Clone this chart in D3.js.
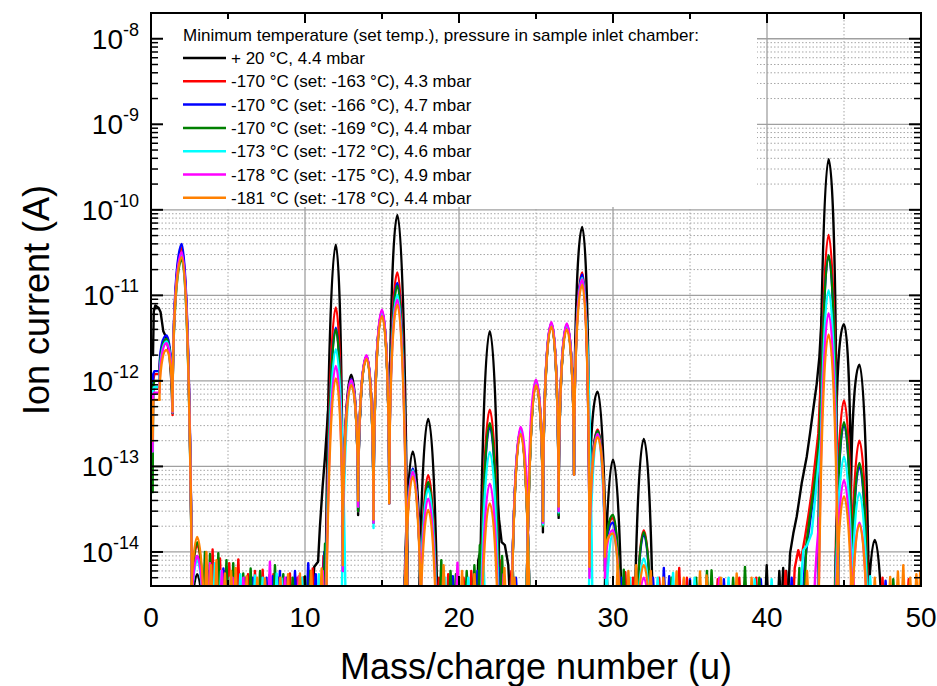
<!DOCTYPE html>
<html>
<head>
<meta charset="utf-8">
<script src="https://cdn.jsdelivr.net/npm/d3@7"></script>
<style>
  body { margin: 0; background: #fff; }
  svg { display: block; font-family: "Liberation Sans", Arial, sans-serif; }
</style>
</head>
<body>
<svg id="chart" width="937" height="686"></svg>
<script>
// ---------------- data ----------------
// mass/charge positions of the spectral peaks (u)
const masses = [1, 2, 3, 12, 13, 14, 15, 16, 17, 18, 22, 24, 25, 26, 27, 28, 29, 30, 32, 44, 45, 46, 47];
// positions of the minima between neighbouring peaks (u)
const valleyAt = [0.55, 1.4, 12.45, 13.45, 14.45, 15.47, 24.47, 25.45, 26.47, 27.47, 28.47, 29.48, 44.5, 45.45];

const seriesNames = [
  "+ 20 \u00b0C, 4.4 mbar",
  "-170 \u00b0C (set: -163 \u00b0C), 4.3 mbar",
  "-170 \u00b0C (set: -166 \u00b0C), 4.7 mbar",
  "-170 \u00b0C (set: -169 \u00b0C), 4.4 mbar",
  "-173 \u00b0C (set: -172 \u00b0C), 4.6 mbar",
  "-178 \u00b0C (set: -175 \u00b0C), 4.9 mbar",
  "-181 \u00b0C (set: -178 \u00b0C), 4.4 mbar"
];
const seriesColors = ["#000000", "#ff0000", "#0000ff", "#008000", "#00ffff", "#ff00ff", "#ff8000"];

// peak ion currents (A), one entry per mass above
const peaksBlack   = [null, 3.2e-11, 5.5e-15, 3.9e-11, 1.18e-12, 1.9e-12, 6.2e-12, 8.7e-11, 1.5e-13, 3.6e-13, 3.8e-12, 2.6e-13, 9.5e-13, 4.6e-12, 4.4e-12, 6.3e-11, 7.5e-13, 1.2e-13, 2.1e-13, 3.9e-10, 4.6e-12, 1.55e-12, 1.38e-14];
const peaksRed     = [3.1e-12, 3.6e-11, 1.2e-14, 7.2e-12, 1.05e-12, 1.95e-12, 6.5e-12, 1.85e-11, 9.3e-14, 7.9e-14, 4.6e-13, 2.7e-13, 9.8e-13, 4.7e-12, 4.5e-12, 1.85e-11, 2.7e-13, 2.5e-14, 1.8e-14, 5.1e-11, 5.9e-13, 2.0e-13, null];
const peaksBlue    = [3.4e-12, 4.0e-11, 9e-15, 4.2e-12, 1.05e-12, 1.95e-12, 6.5e-12, 1.4e-11, 9.5e-14, 6.0e-14, 2.9e-13, 2.7e-13, 9.8e-13, 4.7e-12, 4.5e-12, 1.75e-11, 2.6e-13, 2.2e-14, 1.6e-14, 2.9e-11, 3.1e-13, 1.0e-13, null];
const peaksGreen   = [3.1e-12, 2.6e-11, 1.3e-14, 4.0e-12, 1.0e-12, 1.9e-12, 6.3e-12, 1.3e-11, 9.0e-14, 6.6e-14, 3.2e-13, 2.6e-13, 9.5e-13, 4.6e-12, 4.4e-12, 1.6e-11, 2.6e-13, 2.7e-14, 1.7e-14, 2.95e-11, 3.3e-13, 1.1e-13, null];
const peaksCyan    = [2.9e-12, 3.0e-11, 8e-15, 2.35e-12, 1.0e-12, 1.9e-12, 6.4e-12, 1.02e-11, 9.0e-14, 5.5e-14, 1.48e-13, 2.7e-13, 9.8e-13, 4.7e-12, 4.5e-12, 1.6e-11, 2.4e-13, 1.7e-14, 8.4e-15, 1.15e-11, 1.3e-13, 4.9e-14, null];
const peaksMagenta = [2.75e-12, 3.2e-11, 9e-15, 1.5e-12, 1.02e-12, 2.0e-12, 6.8e-12, 8.9e-12, 8.7e-14, 4.2e-14, 6.3e-14, 2.9e-13, 1.03e-12, 4.9e-12, 4.7e-12, 1.55e-11, 2.4e-13, 1.8e-14, 5e-15, 6.2e-12, 6.9e-14, 2.2e-14, null];
const peaksOrange  = [2.3e-12, 2.8e-11, 1.5e-14, 1.07e-12, 8.9e-13, 1.8e-12, 5.7e-12, 7.8e-12, 7.6e-14, 3.1e-14, 3.7e-14, 2.4e-13, 8.9e-13, 4.3e-12, 4.0e-12, 1.32e-11, 2.2e-13, 1.65e-14, 7e-15, 3.5e-12, 4.5e-14, 2.1e-14, null];

// minima between neighbouring peaks (A), one entry per valley position; null = below the axis
const valleysBlack   = [null, 4.3e-13, 6e-15, 2.7e-14, 2.2e-14, 4.0e-14, null, 1.7e-14, 2.5e-14, 9e-14, 2.4e-14, null, 1.8e-13, 2.6e-14];
const valleysRed     = [1.2e-12, 4.0e-13, 6e-15, 3.0e-14, 2.2e-14, 3.7e-14, null, 2.1e-14, 2.8e-14, 8e-14, 6e-15, 6e-15, null, null];
const valleysBlue    = [1.3e-12, 4.3e-13, 6e-15, 3.0e-14, 2.2e-14, 3.7e-14, null, 2.1e-14, 2.8e-14, 8e-14, 6e-15, 6e-15, null, null];
const valleysGreen   = [1.0e-12, 4.2e-13, 6e-15, 3.0e-14, 2.2e-14, 3.7e-14, null, 2.0e-14, 2.7e-14, 8e-14, 6e-15, 6e-15, null, null];
const valleysCyan    = [8.5e-13, 4.3e-13, null, 3.4e-14, 1.9e-14, 3.7e-14, null, 2.1e-14, 2.9e-14, 8e-14, null, null, null, null];
const valleysMagenta = [7.3e-13, 4.3e-13, 6e-15, 3.4e-14, 2.2e-14, 3.7e-14, 7e-15, 2.2e-14, 3.0e-14, 8e-14, 5e-15, 5e-15, null, null];
const valleysOrange  = [6.0e-13, 4.4e-13, 7e-15, 4.0e-14, 2.4e-14, 3.7e-14, null, 2.3e-14, 3.4e-14, 8e-14, 6.7e-15, 8.8e-15, null, null];

// traced stretches of the curves that are not simple peaks: [m/z, current]
const tracesBlack = [
  [[0.13, 2.0e-12], [0.18, 6.5e-12], [0.28, 7.6e-12], [0.5, 7.1e-12], [0.62, 6.4e-12], [0.8, 3.8e-12], [1.0, 3.2e-12], [1.2, 2.0e-12], [1.32, 1.0e-12], [1.4, 4.3e-13]],
  [[10.45, 2.5e-15], [10.6, 6.7e-15], [10.85, 7.7e-15], [10.97, 2.0e-14], [11.15, 6.0e-14], [11.3, 1.3e-13], [11.5, 4.5e-13]],
  [[21.15, 2.5e-15], [21.25, 8e-15], [21.38, 1.0e-14], [21.45, 1.4e-14]],
  [[22.5, 4.0e-14], [22.6, 2.4e-14], [22.77, 1.3e-14], [22.98, 1.2e-14], [23.1, 9e-15], [23.2, 7e-15], [23.32, 2.5e-15]],
  [[41.35, 2.5e-15], [41.5, 9.7e-15], [41.71, 1.65e-14], [41.93, 2.6e-14], [42.25, 6.3e-14], [42.58, 1.3e-13], [42.79, 2.4e-13], [43.0, 4.6e-13], [43.23, 9.3e-13], [43.4, 1.9e-12], [43.55, 5.6e-12]]
];
const tracesRed = [
  [[0.1, 3e-13], [0.14, 1.0e-12], [0.22, 1.2e-12], [0.55, 1.2e-12]],
  [[41.7, 2.5e-15], [41.8, 6.5e-15], [42.03, 1.05e-14], [42.2, 8e-15], [42.47, 1.5e-14], [42.68, 2.6e-14], [42.9, 4.9e-14], [43.12, 1.1e-13], [43.33, 2.4e-13], [43.5, 1.0e-12]]
];
const tracesBlue = [
  [[0.1, 2e-13], [0.14, 1.2e-12], [0.22, 1.3e-12], [0.55, 1.3e-12]],
  [[42.3, 2.5e-15], [42.45, 7e-15], [42.58, 1.15e-14], [42.9, 3.1e-14], [43.23, 8.3e-14], [43.45, 2.5e-13]]
];
const tracesGreen = [
  [[0.11, 5e-14], [0.12, 2e-13], [0.15, 9e-13], [0.22, 1.0e-12], [0.55, 1.0e-12]],
  [[42.4, 2.5e-15], [42.55, 1.2e-14], [42.79, 2.6e-14], [43.0, 4.9e-14], [43.23, 1.0e-13], [43.4, 2.2e-13], [43.5, 6e-13]]
];
const tracesCyan = [
  [[0.1, 1.5e-13], [0.14, 8e-13], [0.22, 8.5e-13], [0.55, 8.5e-13]],
  [[42.2, 2.5e-15], [42.25, 5.7e-15], [42.36, 1.05e-14], [42.6, 1.2e-14], [42.9, 1.65e-14], [43.12, 4.1e-14], [43.35, 1.1e-13], [43.5, 2.0e-13]]
];
const tracesMagenta = [
  [[0.1, 1.5e-13], [0.14, 7e-13], [0.22, 7.3e-13], [0.55, 7.3e-13]],
  [[43.05, 2.5e-15], [43.12, 5e-15], [43.23, 1.05e-14], [43.4, 2.5e-14]]
];
const tracesOrange = [
  [[0.1, 2e-13], [0.12, 3e-13], [0.15, 6e-13], [0.22, 6e-13], [0.55, 6e-13]]
];

// background noise spikes near the detection limit: [m/z, current]
const noiseBlack = [[3.35, 5e-15], [4.6, 5e-15], [9.9, 5e-15], [29.6, 5e-15], [39.98, 7e-15], [40.8, 6e-15], [41.05, 6.5e-15], [41.25, 6e-15]];
const noiseRed = [[3.55, 8e-15], [4.0, 1.07e-14], [4.48, 8.4e-15], [4.75, 6e-15], [5.08, 7.4e-15], [5.67, 8.2e-15], [6.3, 5.5e-15], [6.75, 6e-15], [7.25, 6.2e-15], [7.95, 5.5e-15], [8.3, 5e-15], [9.02, 5.6e-15], [9.5, 5e-15], [9.9, 5e-15], [10.5, 6.4e-15], [11.2, 9e-15], [18.7, 5e-15], [19.3, 5.5e-15], [20.3, 5e-15], [20.8, 6e-15], [22.75, 8e-15], [23.4, 6e-15], [30.8, 5.8e-15], [31.3, 5e-15], [33.0, 5e-15], [34.3, 6.5e-15], [34.8, 5e-15], [36.8, 4.8e-15], [38.2, 5e-15], [39.3, 5e-15], [41.2, 6e-15], [47.5, 5e-15], [49.2, 4.8e-15]];
const noiseBlue = [[3.7, 6e-15], [4.2, 5.5e-15], [4.7, 6.4e-15], [5.45, 5.5e-15], [6.15, 5e-15], [6.6, 5e-15], [7.5, 5e-15], [7.9, 5.2e-15], [8.37, 6e-15], [8.8, 5e-15], [9.35, 6e-15], [10.21, 7.4e-15], [10.7, 5.5e-15], [11.25, 1e-14], [19.6, 5.2e-15], [21.2, 6e-15], [22.6, 6.5e-15], [23.7, 5e-15], [30.55, 5e-15], [32.6, 5e-15], [33.3, 6.5e-15], [33.65, 5.2e-15], [35.0, 4.8e-15], [37.2, 4.8e-15], [39.6, 4.8e-15], [41.6, 5e-15], [47.7, 4.6e-15]];
const noiseGreen = [[3.5, 1e-14], [3.83, 9.5e-15], [4.37, 9.7e-15], [4.9, 8e-15], [5.34, 7.4e-15], [5.99, 5.6e-15], [6.47, 6.4e-15], [7.08, 6e-15], [7.7, 5.4e-15], [8.05, 7e-15], [8.59, 5.5e-15], [9.2, 5e-15], [10.0, 5.2e-15], [10.35, 6e-15], [11.3, 1.25e-14], [18.85, 8e-15], [19.45, 6e-15], [19.8, 5.5e-15], [20.5, 6e-15], [21.0, 7e-15], [21.35, 1.2e-14], [22.8, 9e-15], [23.5, 6e-15], [30.7, 6.2e-15], [33.8, 5e-15], [35.4, 5e-15], [36.1, 6e-15], [36.4, 6.1e-15], [37.8, 5e-15], [38.57, 6.7e-15], [39.5, 5e-15], [42.1, 6.5e-15], [48.2, 4.8e-15]];
const noiseCyan = [[4.15, 7.4e-15], [4.55, 6e-15], [5.13, 5e-15], [5.8, 5.5e-15], [6.75, 5.3e-15], [7.25, 5e-15], [8.16, 5.6e-15], [8.48, 4.9e-15], [9.8, 5e-15], [10.9, 5.5e-15], [19.1, 5e-15], [20.6, 5e-15], [21.6, 7e-15], [31.1, 5e-15], [32.9, 5e-15], [33.9, 5.7e-15], [35.3, 5e-15], [37.5, 5e-15], [39.2, 4.8e-15], [40.3, 4.8e-15], [46.7, 5.2e-15]];
const noiseMagenta = [[3.83, 7.4e-15], [4.6, 6e-15], [5.3, 5e-15], [6.0, 5e-15], [7.72, 7.7e-15], [8.7, 5e-15], [9.6, 5.2e-15], [11.15, 6e-15], [19.9, 7.5e-15], [22.9, 5.5e-15], [34.6, 4.8e-15], [36.9, 5e-15], [45.6, 5e-15]];
const noiseOrange = [[3.6, 1e-14], [3.9, 7e-15], [4.25, 8e-15], [4.8, 5.6e-15], [5.2, 6e-15], [5.5, 6.5e-15], [6.21, 5.2e-15], [6.9, 5e-15], [7.4, 4.9e-15], [8.4, 5e-15], [8.9, 5.5e-15], [9.67, 5.6e-15], [10.4, 6e-15], [11.08, 6.4e-15], [19.0, 7e-15], [20.2, 6e-15], [21.0, 5.5e-15], [22.95, 6.5e-15], [23.6, 5e-15], [30.3, 7e-15], [31.0, 6e-15], [31.5, 7e-15], [32.45, 6e-15], [33.27, 5e-15], [34.13, 5.9e-15], [34.6, 5e-15], [35.65, 5.9e-15], [36.08, 5.3e-15], [37.0, 5e-15], [38.03, 5.6e-15], [39.0, 5e-15], [42.6, 6e-15], [47.0, 5e-15], [48.0, 5.1e-15], [48.5, 5.9e-15], [48.85, 7e-15], [49.3, 5e-15], [49.7, 5.5e-15], [49.95, 6e-15]];

// axis ticks
const xTicks = [0, 10, 20, 30, 40, 50];
const xMinorTicks = [5, 15, 25, 35, 45];
const yExponents = [-14, -13, -12, -11, -10, -9, -8];

const legendTitle = "Minimum temperature (set temp.), pressure in sample inlet chamber:";
const xTitle = "Mass/charge number (u)";
const yTitle = "Ion current (A)";

// ---------------- assembly ----------------
const series = [
  { peaks: peaksBlack,   valleys: valleysBlack,   traces: tracesBlack,   noise: noiseBlack },
  { peaks: peaksRed,     valleys: valleysRed,     traces: tracesRed,     noise: noiseRed },
  { peaks: peaksBlue,    valleys: valleysBlue,    traces: tracesBlue,    noise: noiseBlue },
  { peaks: peaksGreen,   valleys: valleysGreen,   traces: tracesGreen,   noise: noiseGreen },
  { peaks: peaksCyan,    valleys: valleysCyan,    traces: tracesCyan,    noise: noiseCyan },
  { peaks: peaksMagenta, valleys: valleysMagenta, traces: tracesMagenta, noise: noiseMagenta },
  { peaks: peaksOrange,  valleys: valleysOrange,  traces: tracesOrange,  noise: noiseOrange }
].map((s, i) => Object.assign(s, { name: seriesNames[i], color: seriesColors[i] }));

const svg = d3.select("#chart");
const plot = { left: 151, right: 921, top: 13, bottom: 586 };

const x = d3.scaleLinear().domain([0, 50]).range([plot.left, plot.right]);
const y = d3.scaleLog().domain([4e-15, 2e-8]).range([plot.bottom, plot.top]);

// peak flank geometry: flanks without a neighbouring minimum run down to a
// notional floor below the axis, at this half width
const FLANK_HALF_WIDTH = 0.75;
const FLANK_FLOOR = 1e-18;
const NOISE_FLOOR = 2.2e-15;
const NOISE_HALF_WIDTH = 0.11;
const LINE_WIDTH = 2.4;

// ---------- grid ----------
const grid = svg.append("g");
const minorY = [];
for (let e = -15; e <= -8; e++) {
  for (let k = 2; k <= 9; k++) {
    const v = k * Math.pow(10, e);
    if (v > 4e-15 && v < 2e-8) minorY.push(v);
  }
}
const majorY = yExponents.map(e => Math.pow(10, e));

grid.selectAll(".ym").data(minorY).enter().append("line")
  .attr("x1", plot.left).attr("x2", plot.right)
  .attr("y1", d => y(d)).attr("y2", d => y(d))
  .attr("stroke", "#a6a6a6").attr("stroke-width", 1).attr("stroke-dasharray", "1.5,2");
grid.selectAll(".xm").data(xMinorTicks).enter().append("line")
  .attr("y1", plot.top).attr("y2", plot.bottom)
  .attr("x1", d => x(d)).attr("x2", d => x(d))
  .attr("stroke", "#a6a6a6").attr("stroke-width", 1).attr("stroke-dasharray", "1.5,2");
grid.selectAll(".yM").data(majorY).enter().append("line")
  .attr("x1", plot.left).attr("x2", plot.right)
  .attr("y1", d => y(d)).attr("y2", d => y(d))
  .attr("stroke", "#a0a0a0").attr("stroke-width", 1.3);
grid.selectAll(".xM").data(xTicks.slice(1, -1)).enter().append("line")
  .attr("y1", plot.top).attr("y2", plot.bottom)
  .attr("x1", d => x(d)).attr("x2", d => x(d))
  .attr("stroke", "#a0a0a0").attr("stroke-width", 1.3);

// ---------- legend background ----------
svg.append("rect")
  .attr("x", plot.left + 1).attr("y", plot.top + 1)
  .attr("width", 757 - plot.left - 1).attr("height", 207 - plot.top - 1)
  .attr("fill", "#fff");

// ---------- data ----------
svg.append("clipPath").attr("id", "plotclip").append("rect")
  .attr("x", plot.left).attr("y", plot.top)
  .attr("width", plot.right - plot.left).attr("height", plot.bottom - plot.top);

function peakSegments(peaks, valleys) {
  const tops = masses.map((m, i) => [m, peaks[i]]).filter(d => d[1] != null);
  return tops.map(([m, v], k) => {
    const prevM = k > 0 ? tops[k - 1][0] : -Infinity;
    const nextM = k < tops.length - 1 ? tops[k + 1][0] : Infinity;
    let left = null, right = null;
    valleyAt.forEach((vx, j) => {
      if (valleys[j] == null) return;
      if (vx > prevM && vx < m) left = [vx, valleys[j]];
      if (vx > m && vx < nextM && right == null) right = [vx, valleys[j]];
    });
    if (!left) left = [m - FLANK_HALF_WIDTH, FLANK_FLOOR];
    if (!right) right = [m + FLANK_HALF_WIDTH, FLANK_FLOOR];
    return { left, top: [m, v], right };
  });
}

// one peak: quarter ellipse up from its left foot, quarter ellipse down to its right foot
function segmentPath(s) {
  const x0 = x(s.left[0]), y0 = y(s.left[1]);
  const x1 = x(s.top[0]), y1 = y(s.top[1]);
  const x2 = x(s.right[0]), y2 = y(s.right[1]);
  let d = `M${x0},${y0}`;
  d += y0 > y1 ? `A${x1 - x0},${y0 - y1} 0 0 1 ${x1},${y1}` : `L${x1},${y1}`;
  d += y2 > y1 ? `A${x2 - x1},${y2 - y1} 0 0 1 ${x2},${y2}` : `L${x2},${y2}`;
  return d;
}

const line = d3.line().x(d => x(d[0])).y(d => y(d[1]));

const dataLayer = svg.append("g").attr("clip-path", "url(#plotclip)");
series.forEach(s => {
  const g = dataLayer.append("g")
    .attr("fill", "none").attr("stroke", s.color).attr("stroke-width", LINE_WIDTH)
    .attr("stroke-linejoin", "round").attr("stroke-linecap", "round");

  g.append("path").attr("d", peakSegments(s.peaks, s.valleys).map(segmentPath).join(""));

  g.selectAll(".trace").data(s.traces).enter().append("path").attr("d", line);

  g.selectAll(".noise").data(s.noise).enter().append("path")
    .attr("d", d => line([[d[0] - NOISE_HALF_WIDTH, NOISE_FLOOR], d, [d[0] + NOISE_HALF_WIDTH, NOISE_FLOOR]]));
});

// ---------- legend ----------
const legend = svg.append("g").attr("font-size", 17).attr("fill", "#000");
legend.append("text").attr("x", 183).attr("y", 41).text(legendTitle);
series.forEach((s, i) => {
  const by = 64 + i * 23.3;
  legend.append("line").attr("x1", 183).attr("x2", 226).attr("y1", by - 6).attr("y2", by - 6)
    .attr("stroke", s.color).attr("stroke-width", 2.5);
  legend.append("text").attr("x", 231).attr("y", by).text(s.name);
});

// ---------- frame and ticks ----------
const axes = svg.append("g").attr("stroke", "#000");
axes.append("rect")
  .attr("x", plot.left).attr("y", plot.top)
  .attr("width", plot.right - plot.left).attr("height", plot.bottom - plot.top)
  .attr("fill", "none").attr("stroke-width", 2);

[[plot.left, 1], [plot.right, -1]].forEach(([x0, dir]) => {
  axes.selectAll(null).data(majorY).enter().append("line")
    .attr("x1", x0).attr("x2", x0 + dir * 12)
    .attr("y1", d => y(d)).attr("y2", d => y(d)).attr("stroke-width", 2);
  axes.selectAll(null).data(minorY).enter().append("line")
    .attr("x1", x0).attr("x2", x0 + dir * 7)
    .attr("y1", d => y(d)).attr("y2", d => y(d)).attr("stroke-width", 1.5);
});
[[plot.bottom, -1], [plot.top, 1]].forEach(([y0, dir]) => {
  axes.selectAll(null).data(xTicks).enter().append("line")
    .attr("x1", d => x(d)).attr("x2", d => x(d))
    .attr("y1", y0).attr("y2", y0 + dir * 10).attr("stroke-width", 2);
  axes.selectAll(null).data(xMinorTicks).enter().append("line")
    .attr("x1", d => x(d)).attr("x2", d => x(d))
    .attr("y1", y0).attr("y2", y0 + dir * 6).attr("stroke-width", 2);
});

// ---------- tick labels ----------
const yLabels = svg.append("g").attr("font-size", 28).attr("text-anchor", "end").attr("fill", "#000");
yExponents.forEach(e => {
  const t = yLabels.append("text").attr("x", 139).attr("y", y(Math.pow(10, e)) + 10);
  t.append("tspan").text("10");
  t.append("tspan").attr("dy", -13).attr("font-size", 18).text(String(e));
});

svg.append("g").attr("font-size", 28).attr("text-anchor", "middle").attr("fill", "#000")
  .selectAll("text").data(xTicks).enter().append("text")
  .attr("x", d => x(d)).attr("y", 627).text(d => d);

// ---------- axis titles ----------
svg.append("text").attr("x", (plot.left + plot.right) / 2).attr("y", 679)
  .attr("text-anchor", "middle").attr("font-size", 36).text(xTitle);
svg.append("text").attr("transform", "translate(49,300) rotate(-90)")
  .attr("text-anchor", "middle").attr("font-size", 36).text(yTitle);
</script>
</body>
</html>
